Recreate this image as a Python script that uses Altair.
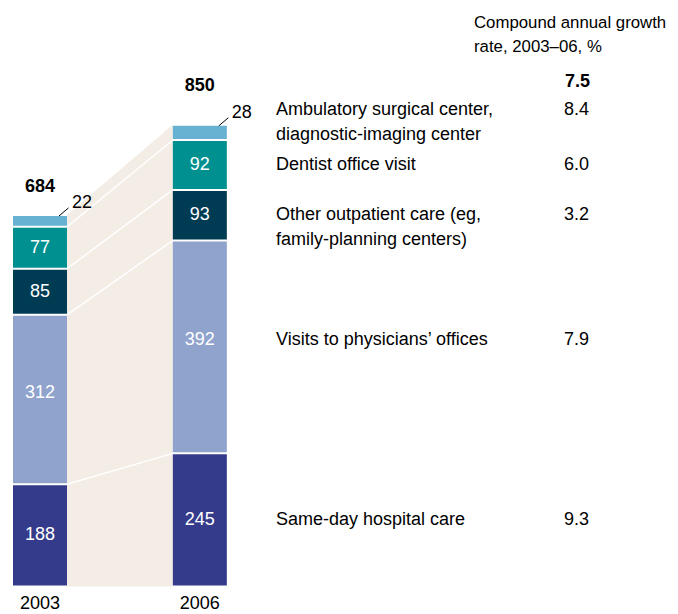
import altair as alt
import pandas as pd

years = ["2003", "2006"]
categories = [
    "Same-day hospital care",
    "Visits to physicians’ offices",
    "Other outpatient care (eg,\nfamily-planning centers)",
    "Dentist office visit",
    "Ambulatory surgical center,\ndiagnostic-imaging center",
]
values_2003 = [188, 312, 85, 77, 22]
values_2006 = [245, 392, 93, 92, 28]
growth = ["9.3", "7.9", "3.2", "6.0", "8.4"]
totals = [684, 850]
total_growth = "7.5"
colors = ["#353B8B", "#8FA3CD", "#003B54", "#00908F", "#67B2D3"]

FONT = "Liberation Sans, Arial, Helvetica, sans-serif"
FS = 18
W, H = 662, 606
PX = 54.0  # pixels per x unit (bar width)
X0 = -5 / PX
XDOM = [X0, X0 + W / PX]
YDOM = [-50.8, 1065]
K = H / (YDOM[1] - YDOM[0])  # pixels per $bn
bar_left = {"2003": 0.0, "2006": 2.96}

# pixel nudges (layout only)
label_nudge = [0, -7, 0, 0, -22]
inner_nudge = [0, -7, 0, 0, 0]
total_nudge = [-28, -39]

rows = []
for yr, vals in zip(years, [values_2003, values_2006]):
    cum = 0
    for i, (c, v) in enumerate(zip(categories, vals)):
        rows.append(dict(year=yr, cat=c, idx=i, value=v, start=cum, end=cum + v,
                         mid=cum + v / 2, u0=bar_left[yr], u1=bar_left[yr] + 1))
        cum += v
df = pd.DataFrame(rows)
df["mid_in"] = df["mid"] - df["idx"].map(lambda i: inner_nudge[i]) / K

xs = alt.Scale(domain=XDOM, nice=False, zero=False)
ys = alt.Scale(domain=YDOM, nice=False, zero=False)
X = lambda f: alt.X(f, type="quantitative", scale=xs, axis=None)
Y = lambda f: alt.Y(f, type="quantitative", scale=ys, axis=None)

gap_l, gap_r = 1.0, bar_left["2006"]

# beige band between the bars
band = pd.DataFrame({"u": [gap_l, gap_r], "top": totals})
band_layer = alt.Chart(band).mark_area(color="#F3EDE6", opacity=1).encode(
    x=X("u"), y=Y("top"), y2=alt.Y2(datum=0))

# white connector lines
conn_rows = []
for i in range(len(categories) - 1):
    e03 = df[(df.year == "2003") & (df.idx == i)].end.iloc[0]
    e06 = df[(df.year == "2006") & (df.idx == i)].end.iloc[0]
    conn_rows += [dict(k=i, u=gap_l, v=e03), dict(k=i, u=gap_r, v=e06)]
conn = pd.DataFrame(conn_rows)
conn_layer = alt.Chart(conn).mark_line(color="white", strokeWidth=1.5).encode(
    x=X("u"), y=Y("v"), detail="k:N")

bars = alt.Chart(df).mark_rect(yOffset=-1, y2Offset=1).encode(
    x=X("u0"), x2="u1", y=Y("start"), y2="end",
    color=alt.Color("idx:O", scale=alt.Scale(domain=list(range(5)), range=colors), legend=None))

inner = alt.Chart(df[df.idx < 4]).mark_text(
    font=FONT, fontSize=FS, color="white", baseline="middle", align="center").encode(
    x=alt.X("uc:Q", scale=xs, axis=None), y=Y("mid_in"), text="value:Q"
).transform_calculate(uc="datum.u0 + 0.5")

small = df[df.idx == 4]
small_text = alt.Chart(small).mark_text(
    font=FONT, fontSize=FS, color="black", baseline="middle", align="left", dx=5, dy=-12).encode(
    x=X("u1"), y=Y("end"), text="value:Q")
small_tick = alt.Chart(small).mark_rule(
    color="black", strokeWidth=1, xOffset=-8, x2Offset=1.5, yOffset=1, y2Offset=-7).encode(
    x=X("u1"), x2="u1", y=Y("end"), y2="end")

tot = pd.DataFrame({"year": years, "total": totals,
                    "uc": [bar_left["2003"] + 0.5, bar_left["2006"] + 0.5]})
tot["ty"] = tot["total"] - pd.Series(total_nudge) / K
tot_text = alt.Chart(tot).mark_text(
    font=FONT, fontSize=FS, fontWeight="bold", color="black", baseline="middle", align="center").encode(
    x=alt.X("uc:Q", scale=xs, axis=None), y=Y("ty"), text="total:Q")

year_text = alt.Chart(tot).mark_text(
    font=FONT, fontSize=FS, color="black", baseline="middle", align="center", dy=18).encode(
    x=alt.X("uc:Q", scale=xs, axis=None), y=Y("zero:Q"), text="year:N"
).transform_calculate(zero="0")

lab = df[df.year == "2006"].copy()
lab["growth"] = growth
lab["ly"] = lab["mid"] - pd.Series(label_nudge, index=lab.index) / K
cat_text = alt.Chart(lab).mark_text(
    font=FONT, fontSize=FS, color="black", baseline="middle", align="left", lineHeight=25,
    lineBreak="\n").encode(
    x=alt.value(268), y=Y("ly"), text="cat:N")
gr_text = alt.Chart(lab).mark_text(
    font=FONT, fontSize=FS, color="black", baseline="middle", align="right").encode(
    x=alt.value(581), y=Y("ly"), text="growth:N")

hdr = pd.DataFrame({"t": ["Compound annual growth", "rate, 2003–06, %"], "py": [15, 39]})
hdr_text = alt.Chart(hdr).mark_text(
    font=FONT, fontSize=16.8, color="black", baseline="middle", align="left").encode(
    x=alt.value(466), y=alt.Y("py:Q", scale=None, axis=None), text="t:N")

tg = pd.DataFrame({"t": [total_growth]})
tg_text = alt.Chart(tg).mark_text(
    font=FONT, fontSize=FS, fontWeight="bold", color="black", baseline="middle", align="right").encode(
    x=alt.value(582), y=alt.value(74), text="t:N")

chart = alt.layer(
    band_layer, conn_layer, bars, inner, small_text, small_tick, tot_text, year_text,
    cat_text, gr_text, hdr_text, tg_text
).properties(
    width=W, height=H, padding=0,
    autosize=alt.AutoSizeParams(type="none")
).configure_view(stroke=None)

chart.save("out.html", embed_options={"renderer": "svg", "actions": False})
